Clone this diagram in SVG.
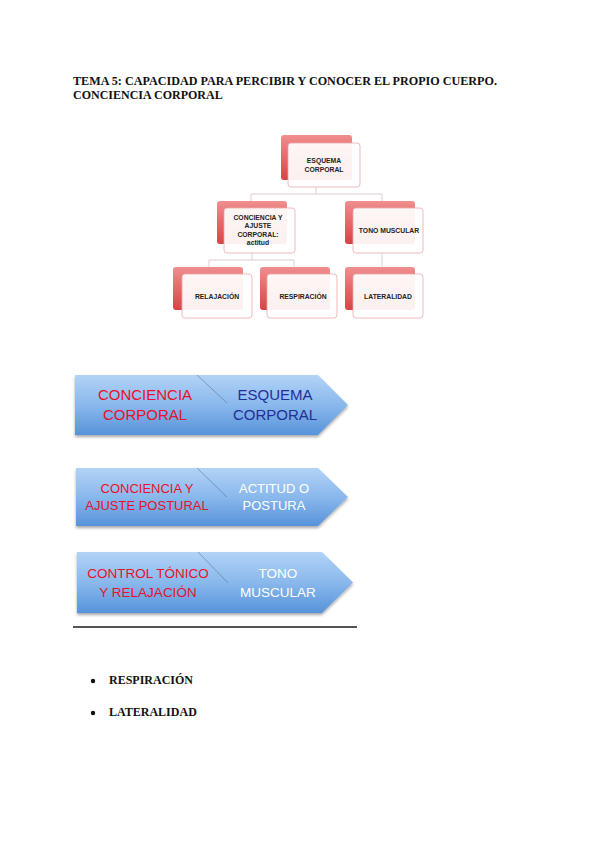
<svg xmlns="http://www.w3.org/2000/svg" width="599" height="848" viewBox="0 0 599 848">
<defs>
<linearGradient id="red" x1="0" y1="0" x2="0" y2="1">
<stop offset="0" stop-color="#f08e8e"/>
<stop offset="1" stop-color="#d64444"/>
</linearGradient>
<linearGradient id="blue" x1="0" y1="0" x2="0" y2="1">
<stop offset="0" stop-color="#b2d3f7"/>
<stop offset="0.5" stop-color="#89b8ec"/>
<stop offset="1" stop-color="#5793da"/>
</linearGradient>
<filter id="sh" x="-10%" y="-10%" width="120%" height="140%">
<feGaussianBlur in="SourceAlpha" stdDeviation="1.5"/>
<feOffset dy="2"/>
<feComponentTransfer><feFuncA type="linear" slope="0.35"/></feComponentTransfer>
<feMerge><feMergeNode/><feMergeNode in="SourceGraphic"/></feMerge>
</filter>
</defs>
<style>
.back{fill:url(#red);}
.front{fill:#ffffff;fill-opacity:0.92;stroke:#eaa9a9;stroke-width:0.8;}
.nt{font-family:"Liberation Sans",Arial,sans-serif;font-weight:bold;font-size:6.8px;fill:#222;text-anchor:middle;}
.conn{stroke:#e2cccc;stroke-width:1;fill:none;}
.chev{fill:url(#blue);filter:url(#sh);}
.div{stroke:#5a6f8a;stroke-width:0.8;opacity:0.7;}
.ct{font-family:"Liberation Sans",Arial,sans-serif;text-anchor:middle;}
.red{fill:#e8102a;}
.navy{fill:#1f2f96;}
.wh{fill:#ffffff;}
.tt{font-family:"Liberation Serif","Times New Roman",serif;font-weight:bold;font-size:12px;fill:#111;}
</style>
<rect width="599" height="848" fill="#ffffff"/>
<g id="title">
<text class="tt" x="73" y="85" textLength="424" lengthAdjust="spacingAndGlyphs">TEMA 5: CAPACIDAD PARA PERCIBIR Y CONOCER EL PROPIO CUERPO.</text>
<text class="tt" x="73" y="98.5">CONCIENCIA CORPORAL</text>
</g>
<g id="connectors">
<path class="conn" d="M316,187 V194 M251,194 H382 M251,194 V201 M382,194 V201"/>
<path class="conn" d="M252,253 V260 M209,260 H294 M209,260 V267 M294,260 V267"/>
<path class="conn" d="M382,253 V267"/>
</g>
<g id="n-esquema">
<rect class="back" x="281" y="135" width="71" height="45" rx="3"/>
<rect class="front" x="288" y="143" width="72" height="44" rx="3"/>
<text class="nt" x="324" y="163">ESQUEMA</text>
<text class="nt" x="324" y="171.5">CORPORAL</text>
</g>
<g id="n-conciencia">
<rect class="back" x="217" y="201" width="70" height="43" rx="3"/>
<rect class="front" x="224" y="208" width="71" height="45" rx="3"/>
<text class="nt" x="258" y="220">CONCIENCIA Y</text>
<text class="nt" x="258" y="228.3">AJUSTE</text>
<text class="nt" x="258" y="236.6">CORPORAL:</text>
<text class="nt" x="258" y="245" font-weight="normal">actitud</text>
</g>
<g id="n-tono">
<rect class="back" x="345" y="201" width="70" height="43" rx="3"/>
<rect class="front" x="353" y="208" width="70" height="45" rx="3"/>
<text class="nt" x="389" y="233">TONO MUSCULAR</text>
</g>
<g id="n-relajacion">
<rect class="back" x="173" y="267" width="70" height="43" rx="3"/>
<rect class="front" x="182" y="274" width="70" height="44" rx="3"/>
<text class="nt" x="217" y="298.5">RELAJACIÓN</text>
</g>
<g id="n-respiracion">
<rect class="back" x="260" y="267" width="70" height="43" rx="3"/>
<rect class="front" x="267" y="274" width="70" height="44" rx="3"/>
<text class="nt" x="303" y="298.5">RESPIRACIÓN</text>
</g>
<g id="n-lateralidad">
<rect class="back" x="345" y="267" width="70" height="43" rx="3"/>
<rect class="front" x="353" y="274" width="70" height="44" rx="3"/>
<text class="nt" x="388" y="298.5">LATERALIDAD</text>
</g>
<g id="chevron1">
<polygon class="chev" points="75,375 318,375 348,405 318,435 75,435"/>
<line class="div" x1="197" y1="375" x2="227" y2="403"/>
<text class="ct red" x="145" y="400" font-size="15">CONCIENCIA</text>
<text class="ct red" x="145" y="420" font-size="15">CORPORAL</text>
<text class="ct navy" x="275" y="400" font-size="15">ESQUEMA</text>
<text class="ct navy" x="275" y="420" font-size="15">CORPORAL</text>
</g>
<g id="chevron2">
<polygon class="chev" points="76,468 318,468 348,497 318,526 76,526"/>
<line class="div" x1="197" y1="468" x2="227" y2="497"/>
<text class="ct red" x="147" y="493" font-size="13">CONCIENCIA Y</text>
<text class="ct red" x="147" y="509.5" font-size="13">AJUSTE POSTURAL</text>
<text class="ct wh" x="274" y="493" font-size="13">ACTITUD O</text>
<text class="ct wh" x="274" y="509.5" font-size="13">POSTURA</text>
</g>
<g id="chevron3">
<polygon class="chev" points="77,552 322,552 353,582.5 322,613 77,613"/>
<line class="div" x1="198" y1="552" x2="228" y2="583"/>
<text class="ct red" x="148" y="578" font-size="13.5">CONTROL TÓNICO</text>
<text class="ct red" x="148" y="597" font-size="13.5">Y RELAJACIÓN</text>
<text class="ct wh" x="278" y="578" font-size="13.5">TONO</text>
<text class="ct wh" x="278" y="597" font-size="13.5">MUSCULAR</text>
</g>
<line x1="73" y1="627" x2="357" y2="627" stroke="#555" stroke-width="1.8"/>
<g id="bullets">
<circle cx="93" cy="681" r="2.2" fill="#111"/>
<text class="tt" x="109" y="684" font-size="11.5">RESPIRACIÓN</text>
<circle cx="93" cy="713" r="2.2" fill="#111"/>
<text class="tt" x="109" y="716" font-size="11.5">LATERALIDAD</text>
</g>
</svg>
